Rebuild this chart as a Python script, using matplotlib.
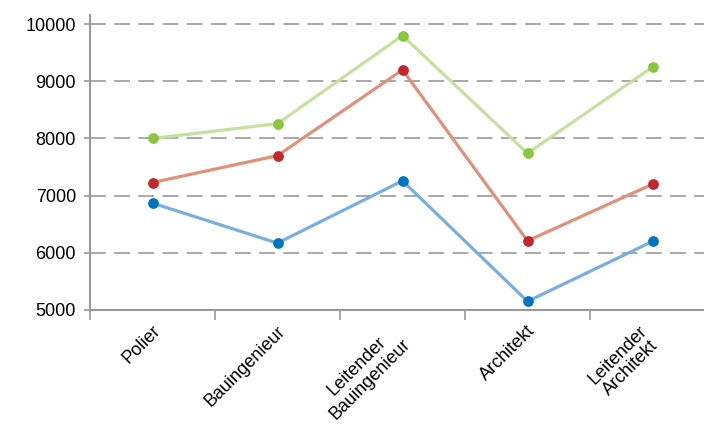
import matplotlib.pyplot as plt
import matplotlib.transforms as mtransforms

berufe = ['Polier', 'Bauingenieur', 'Leitender\nBauingenieur', 'Architekt', 'Leitender\nArchitekt']
gruen = [8000, 8260, 9800, 7740, 9250]
rot = [7230, 7700, 9200, 6210, 7200]
blau = [6870, 6170, 7260, 5150, 6200]
y_ticks = [5000, 6000, 7000, 8000, 9000, 10000]

plt.rcParams['font.family'] = ['Liberation Sans', 'DejaVu Sans']

fig = plt.figure(figsize=(7.04, 4.38), dpi=100)
ax = fig.add_axes([90 / 704, 1 - 310 / 438, 614 / 704, (310 - 15) / 438])

x = [i + 0.5 for i in range(len(berufe))]
serien = [
    (gruen, '#c5e09f', '#8cc63e'),
    (rot, '#e0907b', '#c1272d'),
    (blau, '#79aedf', '#0075c0'),
]
for werte, linie, punkt in serien:
    ax.plot(x, werte, color=linie, linewidth=2.3, zorder=3, solid_capstyle='round')
for werte, linie, punkt in serien:
    ax.scatter(x, werte, s=60, color=punkt, zorder=4, linewidths=0)

ax.set_yticks(y_ticks)
ax.set_yticklabels([str(v) for v in y_ticks], fontsize=13)
for v in y_ticks[1:]:
    ax.axhline(v, color='#999999', linewidth=1.2, dashes=(9.5, 5), zorder=1)

ax.set_xticks(range(len(berufe)))
ax.set_xticklabels([])
ax.set_xticks(x, minor=True)
ax.set_xticklabels(berufe, minor=True, rotation=45, ha='right', va='top',
                   multialignment='center', fontsize=13, linespacing=1.1)
ax.tick_params(axis='x', which='major', length=7, width=1.2, color='#999999', direction='out')
ax.tick_params(axis='x', which='minor', length=0, pad=9)
ax.tick_params(axis='y', length=4, width=1.2, color='#999999', pad=6)

ax.set_xlim(0, 614 / 125)
ax.set_ylim(5000, 10160)

offset = mtransforms.ScaledTranslation(8 / 72, 0, fig.dpi_scale_trans)
for lbl in ax.xaxis.get_minorticklabels():
    lbl.set_transform(lbl.get_transform() + offset)

for s in ['top', 'right']:
    ax.spines[s].set_visible(False)
for s in ['left', 'bottom']:
    ax.spines[s].set_color('#999999')
    ax.spines[s].set_linewidth(1.5)

fig.savefig('out.png', dpi=100)
